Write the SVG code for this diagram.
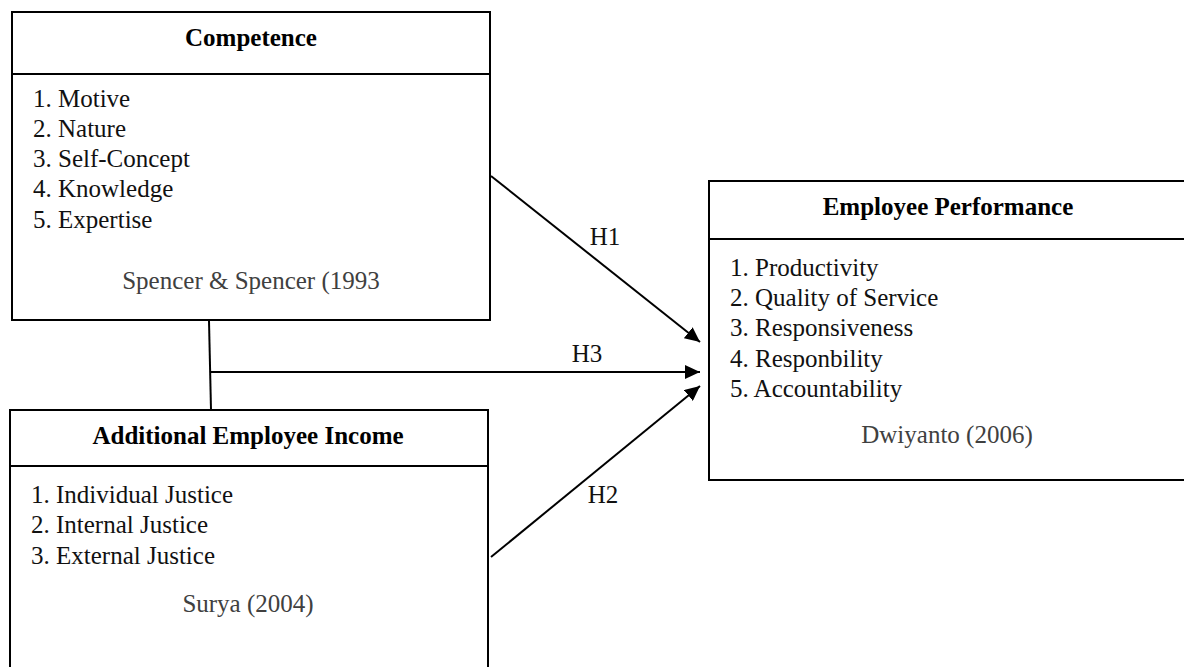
<svg xmlns="http://www.w3.org/2000/svg" width="1184" height="667" viewBox="0 0 1184 667">
  <style>
    .box { fill: #ffffff; stroke: #000000; stroke-width: 2; }
    .div { stroke: #000000; stroke-width: 2; fill: none; }
    text { font-family: 'Liberation Serif', 'Times New Roman', 'DejaVu Serif', serif; font-size: 25px; }
    .title { font-weight: bold; fill: #000000; text-anchor: middle; }
    .item { fill: #111111; }
    .cite { fill: #404040; text-anchor: middle; }
    .lbl { fill: #111111; text-anchor: middle; }
    .conn { stroke: #000000; stroke-width: 2; fill: none; }
  </style>
  <defs>
    <marker id="arrow" markerUnits="userSpaceOnUse" markerWidth="16" markerHeight="14" refX="15" refY="7" orient="auto">
      <path d="M0,0 L15,7 L0,14 Z" fill="#000000"/>
    </marker>
  </defs>
  <rect width="1184" height="667" fill="#ffffff"/>

  <g id="competence" font-family="Liberation Serif, serif">
    <rect class="box" x="12" y="12" width="478" height="308"/>
    <line class="div" x1="12" y1="74" x2="491" y2="74"/>
    <text class="title" x="251" y="46">Competence</text>
    <text class="item" x="33" y="107">1. Motive</text>
    <text class="item" x="33" y="137">2. Nature</text>
    <text class="item" x="33" y="167">3. Self-Concept</text>
    <text class="item" x="33" y="197">4. Knowledge</text>
    <text class="item" x="33" y="228">5. Expertise</text>
    <text class="cite" x="251" y="289">Spencer &amp; Spencer (1993</text>
  </g>

  <g id="additional-income" font-family="Liberation Serif, serif">
    <rect class="box" x="10" y="410" width="478" height="280"/>
    <line class="div" x1="10" y1="466" x2="488" y2="466"/>
    <text class="title" x="248" y="444">Additional Employee Income</text>
    <text class="item" x="31" y="503">1. Individual Justice</text>
    <text class="item" x="31" y="533">2. Internal Justice</text>
    <text class="item" x="31" y="564">3. External Justice</text>
    <text class="cite" x="248" y="612">Surya (2004)</text>
  </g>

  <g id="employee-performance" font-family="Liberation Serif, serif">
    <rect class="box" x="709" y="181" width="490" height="299"/>
    <line class="div" x1="709" y1="239" x2="1190" y2="239"/>
    <text class="title" x="948" y="215">Employee Performance</text>
    <text class="item" x="730" y="276">1. Productivity</text>
    <text class="item" x="730" y="306">2. Quality of Service</text>
    <text class="item" x="730" y="336">3. Responsiveness</text>
    <text class="item" x="730" y="367">4. Responbility</text>
    <text class="item" x="730" y="397">5. Accountability</text>
    <text class="cite" x="947" y="443">Dwiyanto (2006)</text>
  </g>

  <g id="connectors" font-family="Liberation Serif, serif">
    <line class="conn" x1="209" y1="321" x2="211" y2="410"/>
    <line class="conn" x1="211" y1="372" x2="700" y2="372" marker-end="url(#arrow)"/>
    <line class="conn" x1="491" y1="176" x2="700" y2="342" marker-end="url(#arrow)"/>
    <line class="conn" x1="491" y1="557" x2="700" y2="386" marker-end="url(#arrow)"/>
    <text class="lbl" x="605" y="245">H1</text>
    <text class="lbl" x="587" y="362">H3</text>
    <text class="lbl" x="603" y="503">H2</text>
  </g>
</svg>
